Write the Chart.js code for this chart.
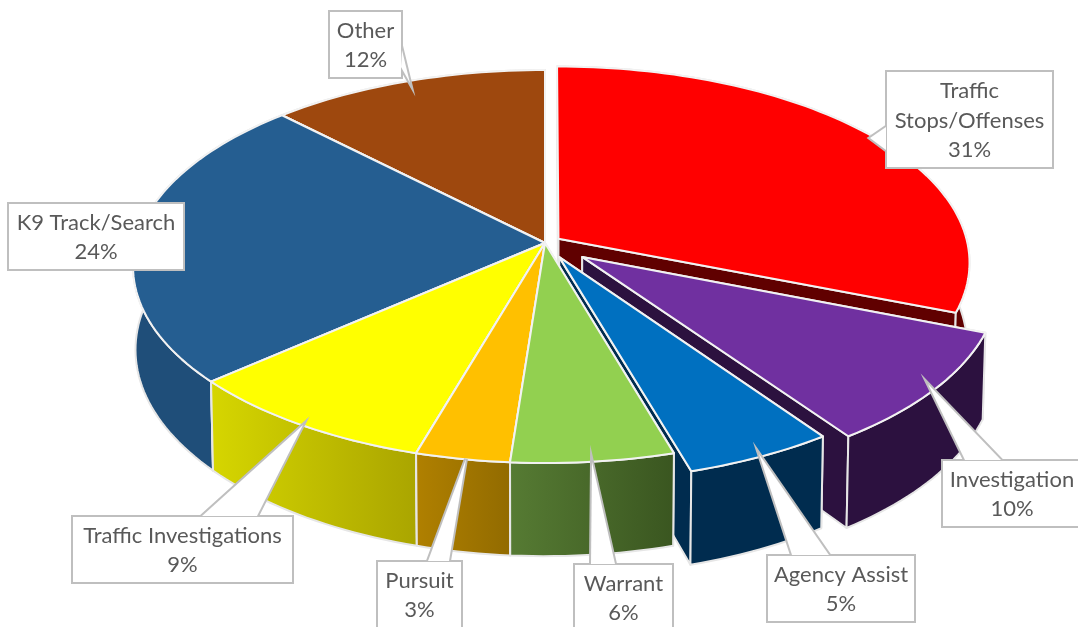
<!DOCTYPE html>
<html>
<head>
<meta charset="utf-8">
<title>Pie</title>
<script src="https://cdn.jsdelivr.net/npm/chart.js@4/dist/chart.umd.js"></script>
<style>
html, body { margin: 0; padding: 0; background: #fff; overflow: hidden; }
canvas { display: block; }
</style>
</head>
<body>
<canvas id="myChart" width="1078" height="627"></canvas>
<script>
// values, labels show them rounded
var categories = ['Traffic Stops/Offenses', 'Investigation', 'Agency Assist', 'Warrant', 'Pursuit', 'Traffic Investigations', 'K9 Track/Search', 'Other'];
var values = [31, 9.3, 5.2, 5.7, 3.3, 9.05, 24.15, 12.3];
var percentLabels = ['31%', '10%', '5%', '6%', '3%', '9%', '24%', '12%'];

// styles
var topColors = ['#ff0000', '#7030a0', '#0070c0', '#92d050', '#ffc000', '#ffff00', '#255e91', '#9e480e'];
var wallLeft = ['#600000', '#2c113f', '#002c4f', '#567b33', '#b08000', '#d6d600', '#1f4e79', '#5e2b08'];
var wallRight = ['#600000', '#2c113f', '#002c4f', '#3a5620', '#926b00', '#aaa500', '#1f4e79', '#5e2b08'];
var explode = [4, 11.5, 8, 0, 0, 0, 0, 0]; // hundredths of the radius

// label callouts: box x, y, w, h, text lines, wedge base a, b, tip
var callouts = [
    { box: [886, 71, 167, 97], lines: ['Traffic', 'Stops/Offenses'], wedge: [[886, 127], [886, 150], [870, 138]] },
    { box: [942, 460, 160, 67], lines: ['Investigation'], textX: 1012, wedge: [[965, 460], [1001, 460], [928, 384]] },
    { box: [767, 555, 148, 67], lines: ['Agency Assist'], wedge: [[792, 555], [829, 555], [759, 454]] },
    { box: [574, 564, 99, 80], lines: ['Warrant'], wedge: [[591, 564], [615, 564], [592, 462]] },
    { box: [377, 561, 85, 80], lines: ['Pursuit'], wedge: [[428, 561], [449, 561], [466, 459]] },
    { box: [72, 516, 221, 67], lines: ['Traffic Investigations'], wedge: [[202, 516], [257, 516], [303, 425]] },
    { box: [8, 203, 176, 67], lines: ['K9 Track/Search'] },
    { box: [329, 11, 73, 67], lines: ['Other'], wedge: [[402, 50], [401, 67], [410, 83]] }
];

// tilted disc, perspective on the depth axis
var cx = 545, cy = 243, rx = 409, ry = 193.7, persp = 0.1196, thick = 82, shrink = 0.006;

function project(u, v, low) {
    var w = 1 - persp * v;
    if (low) {
        return [cx + rx * u / (w * (1 + shrink)), cy + (ry * v + thick) / w];
    }
    return [cx + rx * u / w, cy + ry * v / w];
}

function slicePoints(arc) {
    var d = arc.options.offset / 100;
    var mid = (arc.startAngle + arc.endAngle) / 2;
    return { ox: d * Math.cos(mid), oy: d * Math.sin(mid), mid: mid };
}

function outline(ctx, pts) {
    ctx.beginPath();
    pts.forEach(function (p, i) {
        if (i === 0) ctx.moveTo(p[0], p[1]); else ctx.lineTo(p[0], p[1]);
    });
    ctx.closePath();
}

function drawSlice(ctx, arc, i) {
    var s = slicePoints(arc);
    var n = Math.max(6, Math.ceil((arc.endAngle - arc.startAngle) * 40));
    var topRim = [], lowRim = [];
    for (var k = 0; k <= n; k++) {
        var a = arc.startAngle + (arc.endAngle - arc.startAngle) * k / n;
        topRim.push(project(Math.cos(a) + s.ox, Math.sin(a) + s.oy, false));
        lowRim.push(project(Math.cos(a) + s.ox, Math.sin(a) + s.oy, true));
    }
    var apexTop = project(s.ox, s.oy, false), apexLow = project(s.ox, s.oy, true);

    var xs = topRim.concat(lowRim).map(function (p) { return p[0]; });
    var grad = ctx.createLinearGradient(Math.min.apply(null, xs), 0, Math.max.apply(null, xs), 0);
    grad.addColorStop(0, wallLeft[i]);
    grad.addColorStop(1, wallRight[i]);

    ctx.lineJoin = 'round';
    ctx.lineWidth = 2;
    ctx.strokeStyle = '#e6e6e6';
    ctx.fillStyle = grad;

    // the two cut faces, then the rim
    outline(ctx, [apexTop, topRim[0], lowRim[0], apexLow]);
    ctx.fill(); ctx.stroke();
    outline(ctx, [apexTop, topRim[n], lowRim[n], apexLow]);
    ctx.fill(); ctx.stroke();
    outline(ctx, topRim.concat(lowRim.slice().reverse()));
    ctx.fill(); ctx.stroke();

    // top face
    outline(ctx, [apexTop].concat(topRim));
    ctx.fillStyle = arc.options.backgroundColor;
    ctx.fill();
    ctx.strokeStyle = '#f2f2f2';
    ctx.stroke();
}

function drawCallout(ctx, c, i) {
    var b = c.box;
    // stroke outside only, fill covers the inner half
    var bx = b[0] + 1, by = b[1] + 1, bw = b[2] - 2, bh = b[3] - 2;
    ctx.lineJoin = 'miter';
    ctx.lineWidth = 4;
    ctx.strokeStyle = '#bfbfbf';
    ctx.fillStyle = '#ffffff';
    ctx.strokeRect(bx, by, bw, bh);
    if (c.wedge) {
        outline(ctx, c.wedge);
        ctx.stroke();
        ctx.fill();
    }
    ctx.fillRect(bx, by, bw, bh);

    var lines = c.lines.concat([percentLabels[i]]);
    var tx = c.textX || b[0] + b[2] / 2;
    var lineH = 29.5;
    var y0 = b[1] + (Math.min(b[3], lines.length === 3 ? 97 : 67)) / 2 - (lines.length - 1) * lineH / 2 + 1;
    ctx.fillStyle = '#595959';
    ctx.font = '22px Lato, "Open Sans", sans-serif';
    ctx.textAlign = 'center';
    ctx.textBaseline = 'middle';
    lines.forEach(function (t, k) {
        ctx.fillText(t, tx, y0 + k * lineH);
    });
}

var disc3d = {
    id: 'disc3d',
    beforeDatasetsDraw: function (chart) {
        var ctx = chart.ctx;
        var arcs = chart.getDatasetMeta(0).data;
        var order = arcs.map(function (arc, i) { return i; });
        order.sort(function (a, b) {
            return slicePoints(arcs[a]).oy + Math.sin(slicePoints(arcs[a]).mid) - slicePoints(arcs[b]).oy - Math.sin(slicePoints(arcs[b]).mid);
        });
        ctx.save();
        order.forEach(function (i) { drawSlice(ctx, arcs[i], i); });
        ctx.restore();
        return false;
    },
    afterDraw: function (chart) {
        var ctx = chart.ctx;
        ctx.save();
        callouts.forEach(function (c, i) { drawCallout(ctx, c, i); });
        ctx.restore();
    }
};

function createChart() {
    var ctx = document.getElementById('myChart').getContext('2d');
    new Chart(ctx, {
        type: 'pie',
        data: {
            labels: categories,
            datasets: [{ data: values, backgroundColor: topColors, offset: explode, borderWidth: 0 }]
        },
        options: {
            responsive: false,
            animation: false,
            plugins: { legend: { display: false }, tooltip: { enabled: false } }
        },
        plugins: [disc3d]
    });
}

createChart();
</script>
</body>
</html>
